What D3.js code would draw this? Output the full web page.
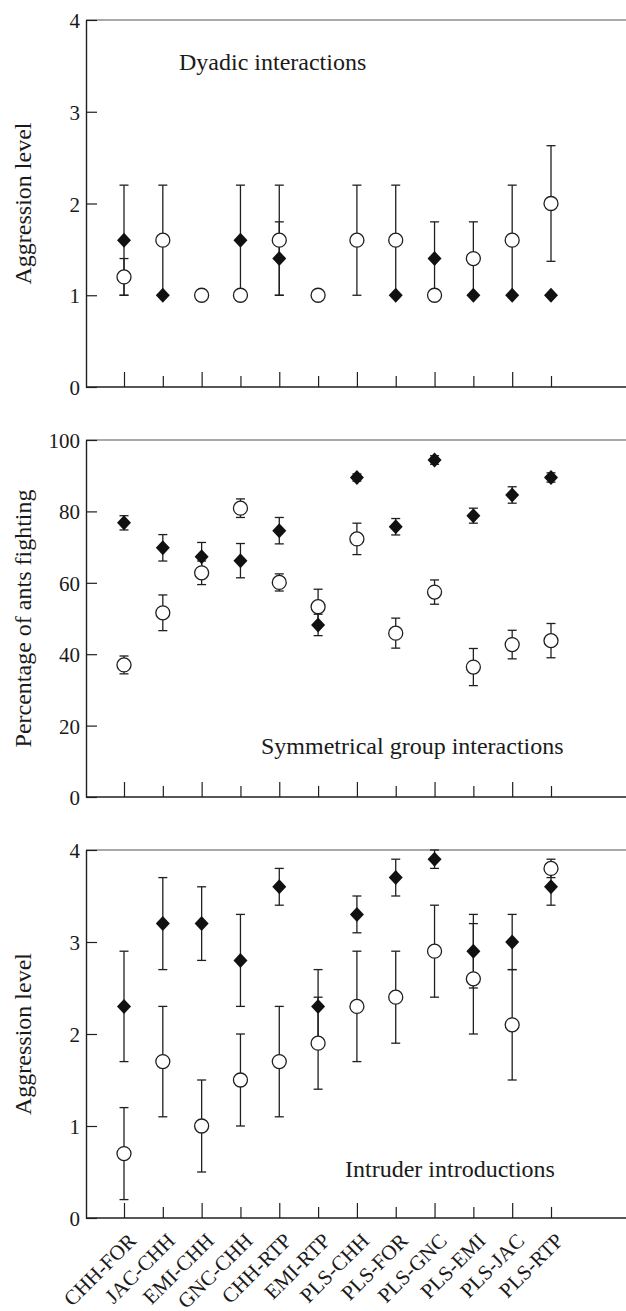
<!DOCTYPE html>
<html lang="en">
<head>
<meta charset="UTF-8">
<title>Aggression between ant colonies</title>
<script src="https://d3js.org/d3.v7.min.js"></script>
<style>
  body { margin: 0; background: #fff; }
  svg { display: block; font-family: "Liberation Serif", "DejaVu Serif", serif; }
  .tick text { font-size: 21px; fill: #1a1a1a; }
  .x-label { font-size: 22px; }
  .panel-label { font-size: 24px; fill: #1a1a1a; }
  .y-title { font-size: 24px; fill: #1a1a1a; }
</style>
</head>
<body>
<div id="chart"></div>
<script>
// colony pairs (x categories)
const pairs = ["CHH-FOR", "JAC-CHH", "EMI-CHH", "GNC-CHH", "CHH-RTP", "EMI-RTP",
               "PLS-CHH", "PLS-FOR", "PLS-GNC", "PLS-EMI", "PLS-JAC", "PLS-RTP"];

// dyadic interactions (aggression level), filled diamonds / open circles
const dyadDiamond    = [1.6, 1.0, null, 1.6, 1.4, null, null, 1.0, 1.4, 1.0, 1.0, 1.0];
const dyadDiamondErr = [0.6, 0,   0,    0.6, 0.4, 0,    0,    0,   0.4, 0,   0,   0];
const dyadCircle     = [1.2, 1.6, 1.0, 1.0, 1.6, 1.0, 1.6, 1.6, 1.0, 1.4, 1.6, 2.0];
const dyadCircleErr  = [0.2, 0.6, 0,   0,   0.6, 0,   0.6, 0.6, 0,   0.4, 0.6, 0.63];

// symmetrical group interactions (% of ants fighting)
const groupDiamond    = [76.8, 69.8, 67.3, 66.2, 74.6, 48.2, 89.5, 75.7, 94.4, 78.8, 84.6, 89.5];
const groupDiamondErr = [2.0, 3.7, 4.0, 4.8, 3.7, 3.0, 1.0, 2.3, 1.2, 2.1, 2.3, 1.3];
const groupCircle     = [37.0, 51.6, 62.8, 80.9, 60.1, 53.3, 72.3, 45.9, 57.4, 36.4, 42.7, 43.8];
const groupCircleErr  = [2.5, 5.0, 3.3, 2.6, 2.4, 4.9, 4.4, 4.2, 3.4, 5.2, 4.0, 4.8];

// intruder introductions (aggression level)
const intrDiamond    = [2.3, 3.2, 3.2, 2.8, 3.6, 2.3, 3.3, 3.7, 3.9, 2.9, 3.0, 3.6];
const intrDiamondErr = [0.6, 0.5, 0.4, 0.5, 0.2, 0.4, 0.2, 0.2, 0.1, 0.4, 0.3, 0.2];
const intrCircle     = [0.7, 1.7, 1.0, 1.5, 1.7, 1.9, 2.3, 2.4, 2.9, 2.6, 2.1, 3.8];
const intrCircleErr  = [0.5, 0.6, 0.5, 0.5, 0.6, 0.5, 0.6, 0.5, 0.5, 0.6, 0.6, 0.1];

const aggrTicks = [0, 1, 2, 3, 4];
const pctTicks = [0, 20, 40, 60, 80, 100];

const width = 626, height = 1311;
const left = 86;

const panels = [
  { title: "Aggression level", label: "Dyadic interactions", top: 20, bottom: 387,
    domain: [0, 4], ticks: aggrTicks, labelX: 179, labelY: 70,
    diamond: dyadDiamond, diamondErr: dyadDiamondErr, circle: dyadCircle, circleErr: dyadCircleErr },
  { title: "Percentage of ants fighting", label: "Symmetrical group interactions", top: 440, bottom: 797,
    domain: [0, 100], ticks: pctTicks, labelX: 261, labelY: 754,
    diamond: groupDiamond, diamondErr: groupDiamondErr, circle: groupCircle, circleErr: groupCircleErr },
  { title: "Aggression level", label: "Intruder introductions", top: 850, bottom: 1218,
    domain: [0, 4], ticks: aggrTicks, labelX: 345, labelY: 1177,
    diamond: intrDiamond, diamondErr: intrDiamondErr, circle: intrCircle, circleErr: intrCircleErr, xLabels: true }
];

const x = d3.scalePoint().domain(pairs).range([124, 551]);

const svg = d3.select("#chart").append("svg")
  .attr("width", width)
  .attr("height", height);

const ink = "#1f1f1f";

panels.forEach(p => {
  const y = d3.scaleLinear().domain(p.domain).range([p.bottom, p.top]);
  const g = svg.append("g");

  // top rule and bottom axis line run to the right edge
  g.append("line")
    .attr("x1", left).attr("x2", width)
    .attr("y1", p.top).attr("y2", p.top)
    .attr("stroke", "#555").attr("stroke-width", 1.2);
  g.append("line")
    .attr("x1", left).attr("x2", width)
    .attr("y1", p.bottom).attr("y2", p.bottom)
    .attr("stroke", ink).attr("stroke-width", 1.4);

  // y axis, ticks pointing inward
  const yAxis = g.append("g")
    .attr("transform", `translate(${left},0)`)
    .call(d3.axisLeft(y).tickValues(p.ticks).tickFormat(d3.format("d"))
      .tickSizeInner(-11).tickSizeOuter(0).tickPadding(6))
    .attr("font-family", null).attr("font-size", null);
  yAxis.select(".domain").attr("stroke", ink).attr("stroke-width", 1.4);
  yAxis.selectAll(".tick line").attr("stroke", ink).attr("stroke-width", 1.2);
  yAxis.selectAll(".tick text").attr("x", -6).attr("dy", "0.36em");

  // x axis, ticks pointing up, alternating length
  const xAxis = g.append("g")
    .attr("transform", `translate(0,${p.bottom})`)
    .call(d3.axisBottom(x).tickSize(-15).tickSizeOuter(0))
    .attr("font-family", null).attr("font-size", null);
  xAxis.select(".domain").remove();
  xAxis.selectAll(".tick line")
    .attr("y2", (d, i) => i % 2 === 0 ? -15 : -11)
    .attr("stroke", ink).attr("stroke-width", 1.2);
  if (p.xLabels) {
    xAxis.selectAll(".tick text")
      .attr("class", "x-label")
      .attr("text-anchor", "end")
      .attr("x", 0).attr("y", 0).attr("dy", 0)
      .attr("transform", "translate(13,24) rotate(-45)");
  } else {
    xAxis.selectAll(".tick text").remove();
  }

  // y axis title
  g.append("text")
    .attr("class", "y-title")
    .attr("text-anchor", "middle")
    .attr("transform", `translate(31,${(p.top + p.bottom) / 2}) rotate(-90)`)
    .text(p.title);

  // panel label
  g.append("text")
    .attr("class", "panel-label")
    .attr("x", p.labelX)
    .attr("y", p.labelY)
    .text(p.label);

  const rows = pairs.map((name, i) => ({
    name,
    d: p.diamond[i], de: p.diamondErr[i],
    c: p.circle[i], ce: p.circleErr[i]
  }));

  const errs = [];
  rows.forEach(r => {
    if (r.d != null && r.de > 0) errs.push({ name: r.name, v: r.d, e: r.de });
    if (r.c != null && r.ce > 0) errs.push({ name: r.name, v: r.c, e: r.ce });
  });

  const capW = 4.5;
  const eb = g.append("g").selectAll("g").data(errs).enter().append("g")
    .attr("stroke", ink).attr("stroke-width", 1.3);
  eb.append("line")
    .attr("x1", d => x(d.name)).attr("x2", d => x(d.name))
    .attr("y1", d => y(d.v - d.e)).attr("y2", d => y(d.v + d.e));
  eb.append("line")
    .attr("x1", d => x(d.name) - capW).attr("x2", d => x(d.name) + capW)
    .attr("y1", d => y(d.v + d.e)).attr("y2", d => y(d.v + d.e));
  eb.append("line")
    .attr("x1", d => x(d.name) - capW).attr("x2", d => x(d.name) + capW)
    .attr("y1", d => y(d.v - d.e)).attr("y2", d => y(d.v - d.e));

  // filled diamonds
  g.append("g").selectAll("path")
    .data(rows.filter(r => r.d != null))
    .enter().append("path")
    .attr("d", "M0,-7.5L7,0L0,7.5L-7,0Z")
    .attr("transform", d => `translate(${x(d.name)},${y(d.d)})`)
    .attr("fill", "#111");

  // open circles
  g.append("g").selectAll("circle")
    .data(rows.filter(r => r.c != null))
    .enter().append("circle")
    .attr("cx", d => x(d.name))
    .attr("cy", d => y(d.c))
    .attr("r", 7)
    .attr("fill", "#fff")
    .attr("stroke", ink)
    .attr("stroke-width", 1.3);
});
</script>
</body>
</html>
